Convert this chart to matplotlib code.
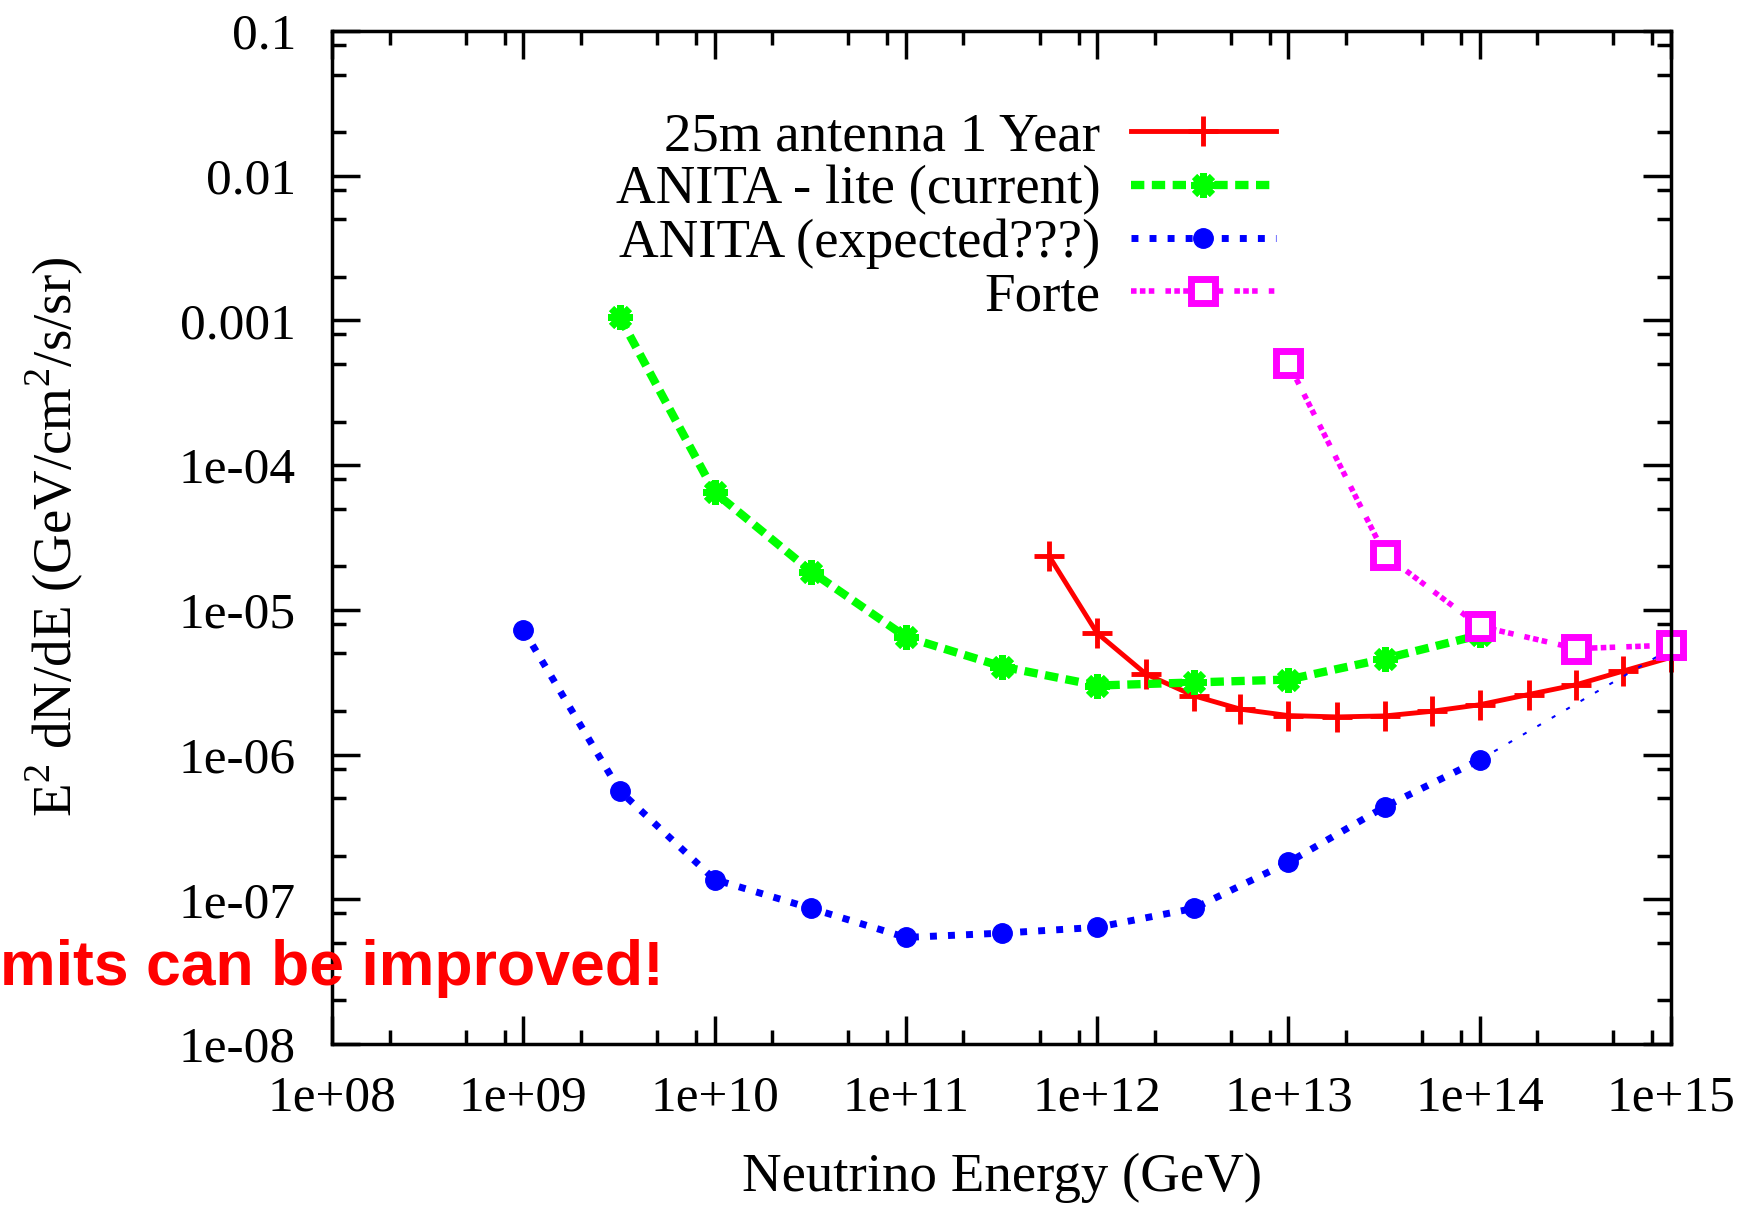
import matplotlib
matplotlib.use("Agg")
import matplotlib.pyplot as plt
from matplotlib.ticker import LogLocator, NullFormatter, FixedLocator

# ---- data ----
red_E = [5.6e11, 1e12, 1.8e12, 3.2e12, 5.6e12, 1e13, 1.8e13, 3.2e13, 5.6e13, 1e14, 1.8e14, 3.2e14, 5.6e14, 1e15]
red_F = [2.36e-5, 6.9e-6, 3.6e-6, 2.55e-6, 2.06e-6, 1.86e-6, 1.82e-6, 1.85e-6, 1.99e-6, 2.21e-6, 2.6e-6, 3.04e-6, 3.77e-6, 4.7e-6]

green_E = [3.2e9, 1e10, 3.2e10, 1e11, 3.2e11, 1e12, 3.2e12, 1e13, 3.2e13, 1e14]
green_F = [1.05e-3, 6.5e-5, 1.84e-5, 6.5e-6, 4.05e-6, 3.0e-6, 3.15e-6, 3.3e-6, 4.6e-6, 6.7e-6]

blue_E = [1e9, 3.2e9, 1e10, 3.2e10, 1e11, 3.2e11, 1e12, 3.2e12, 1e13, 3.2e13, 1e14, 1e15]
blue_F = [7.3e-6, 5.6e-7, 1.37e-7, 8.65e-8, 5.45e-8, 5.84e-8, 6.4e-8, 8.65e-8, 1.8e-7, 4.37e-7, 9.2e-7, 5.4e-6]

forte_E = [1e13, 3.2e13, 1e14, 3.2e14, 1e15]
forte_F = [5.05e-4, 2.4e-5, 7.7e-6, 5.4e-6, 5.7e-6]

labels = ["25m antenna 1 Year", "ANITA - lite (current)", "ANITA (expected???)", "Forte"]
xticks = [1e8, 1e9, 1e10, 1e11, 1e12, 1e13, 1e14, 1e15]
xticklabels = ["1e+08", "1e+09", "1e+10", "1e+11", "1e+12", "1e+13", "1e+14", "1e+15"]
yticks = [1e-8, 1e-7, 1e-6, 1e-5, 1e-4, 1e-3, 1e-2, 1e-1]
yticklabels = ["1e-08", "1e-07", "1e-06", "1e-05", "1e-04", "0.001", "0.01", "0.1"]

plt.rcParams['font.family'] = ['Liberation Serif', 'DejaVu Serif']
plt.rcParams['mathtext.fontset'] = 'custom'
plt.rcParams['mathtext.rm'] = 'Liberation Serif'

fig = plt.figure(figsize=(17.55, 12.06), dpi=100)
ax = fig.add_axes([332/1755, 1-1044/1206, (1671-332)/1755, (1044-31)/1206])

fs = 37
fs2 = 39.5
ax.plot(red_E, red_F, color='#ff0000', lw=3.5, marker='+', ms=22, mew=3.5, label=labels[0], clip_on=False)
ax.plot(green_E, green_F, color='#00ff00', lw=6, ls=(0, (1.6, 0.9)), marker=(8, 2, 0), ms=18, mew=5, label=labels[1], clip_on=False)
ax.plot(blue_E[:-1], blue_F[:-1], color='#0000ff', lw=5, ls=(0, (1, 1.6)), marker='o', ms=14, label=labels[2], clip_on=False)
ax.plot(blue_E[-2:], blue_F[-2:], color='#0000ff', lw=1.5, ls=(0, (2, 6)), clip_on=False)
ax.plot(forte_E, forte_F, color='#ff00ff', lw=4, ls=(0, (1, 0.6, 1, 0.6, 1, 2)), marker='s', ms=17, mew=5, mfc='white', label=labels[3], clip_on=False)

ax.set_xscale('log')
ax.set_yscale('log')
ax.set_xlim(1e8, 1e15)
ax.set_ylim(1e-8, 0.1)

ax.xaxis.set_major_locator(FixedLocator(xticks))
ax.set_xticklabels(xticklabels)
ax.yaxis.set_major_locator(FixedLocator(yticks))
ax.set_yticklabels(yticklabels)
ax.xaxis.set_minor_locator(LogLocator(base=10, subs=[2, 5, 8], numticks=50))
ax.yaxis.set_minor_locator(LogLocator(base=10, subs=[2, 5, 8], numticks=50))
ax.xaxis.set_minor_formatter(NullFormatter())
ax.yaxis.set_minor_formatter(NullFormatter())

ax.tick_params(which='both', direction='in', top=True, right=True, width=2.5, labelsize=fs)
ax.tick_params(which='major', length=20)
ax.tick_params(which='minor', length=10)
ax.tick_params(axis='x', pad=22)
ax.tick_params(axis='y', pad=26)
for s in ax.spines.values():
    s.set_linewidth(2.5)

fig.text(1002/1755, 1-1178/1206, "Neutrino Energy (GeV)", fontsize=fs2, ha='center', va='center')
fig.text(54/1755, 1-537/1206, r"E$^2$ dN/dE (GeV/cm$^2$/s/sr)", fontsize=fs2, rotation=90, ha='center', va='center')

leg = ax.legend(loc='upper right', bbox_to_anchor=(1276/1755, 1-112/1206), bbox_transform=fig.transFigure,
                frameon=False, markerfirst=False, fontsize=fs2, handlelength=2.65, handletextpad=0.55,
                labelspacing=0.05, borderpad=0, borderaxespad=0)

fig.text(0, 1-968/1206, "mits can be improved!", fontsize=45, fontweight='bold', color='#ff0000',
         family='Liberation Sans', ha='left', va='center')

fig.savefig("out.png", dpi=100)
